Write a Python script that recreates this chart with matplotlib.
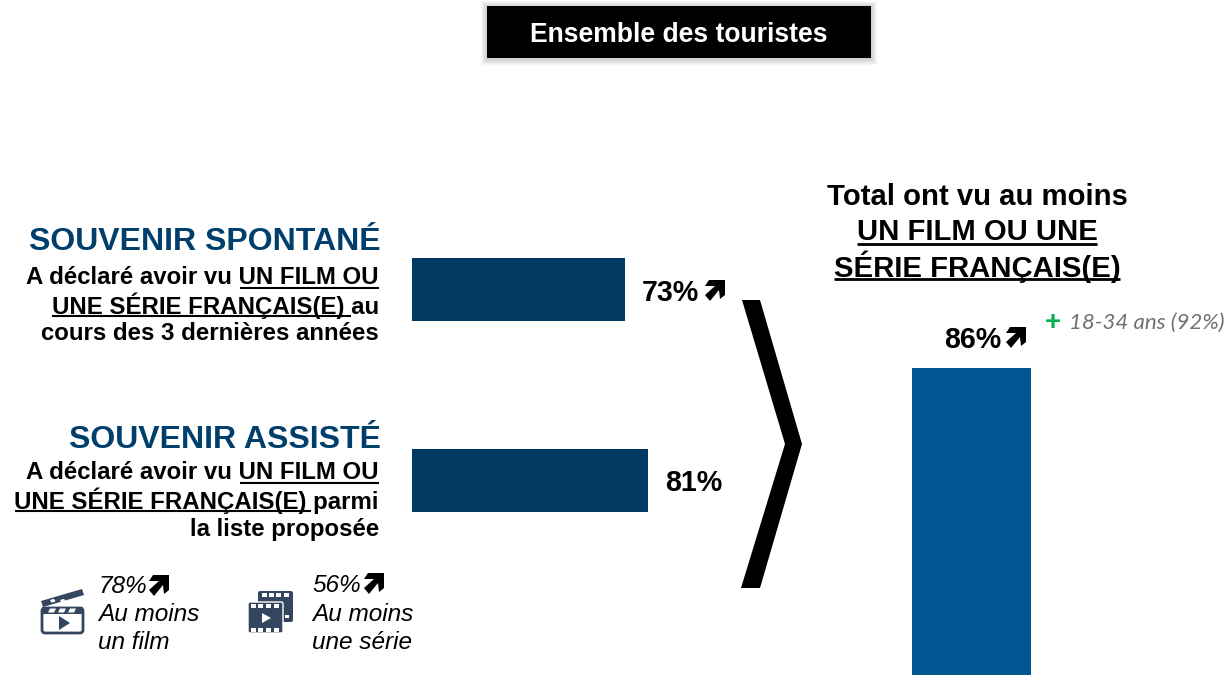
import matplotlib
matplotlib.use("Agg")
import matplotlib.pyplot as plt
from matplotlib.patches import Polygon, Rectangle, FancyBboxPatch

W, H = 1227, 675

rows = ["SOUVENIR SPONTANÉ", "SOUVENIR ASSISTÉ"]
row_values = [73, 81]
total_value = 86
film_value = 78
serie_value = 56
sub_label = "18-34 ans (92%)"

NAVY = "#003A63"
BLUE = "#015591"
HEAD = "#003E6B"
ICON = "#34465F"
ARIAL = "Liberation Sans"

BODY = 17.3
HEADING = 23
RIGHT = 21.1
VALUE = 20.6
SMALL = 17.6

fig = plt.figure(figsize=(W / 100, H / 100), dpi=100)

# pixel overlay for all the text and decorations
ov = fig.add_axes([0, 0, 1, 1], zorder=2)
ov.set_xlim(0, W)
ov.set_ylim(H, 0)
ov.axis("off")
ov.patch.set_alpha(0)


def axes_px(x0, y0, x1, y1):
    return fig.add_axes([x0 / W, 1 - y1 / H, (x1 - x0) / W, (y1 - y0) / H], zorder=1)


# horizontal bars
ax = axes_px(412, 194, 412 + 291.5, 576)
ax.barh([0, 1], row_values, height=0.33, color=NAVY)
ax.set_xlim(0, 100)
ax.set_ylim(1.5, -0.5)
ax.axis("off")

# tall bar, cut by the bottom of the picture
ax2 = axes_px(893, 368, 1050, 675)
ax2.bar([0], [total_value], width=0.76, color=BLUE)
ax2.set_xlim(-0.5, 0.5)
ax2.set_ylim(0, total_value)
ax2.axis("off")


def txt(x, y, s, size, weight="bold", color="black", ha="left", style="normal", family=ARIAL):
    ov.text(x, y - 1, s, fontsize=size, fontweight=weight, color=color, ha=ha, va="center_baseline",
            fontstyle=style, family=family)


def uline(x0, x1, y, lw=1.5):
    ov.plot([x0, x1], [y, y], color="black", lw=lw, solid_capstyle="butt")


def arrow(x, y):
    # thick north-east arrow, (x, y) is the top right corner
    pts = [(0, 0), (0, 15), (-5, 19), (-6, 10), (-15, 21), (-20, 15), (-10, 6), (-20, 6), (-16, 0)]
    ov.add_patch(Polygon([(x + a, y + b) for a, b in pts], color="black", lw=0))


# title box with soft shadow
for i in range(6, 0, -1):
    ov.add_patch(Rectangle((487 - i, 7 - i), 384 + 2 * i, 52 + 2 * i, color="black", alpha=0.03, lw=0))
ov.add_patch(Rectangle((487, 6), 384, 52, color="black", lw=0))
txt(679, 33, "Ensemble des touristes", 19.1, color="white", ha="center")

# left blocks
R = 379
txt(381, 240, rows[0], HEADING, color=HEAD, ha="right")
txt(R, 276, "A déclaré avoir vu UN FILM OU", BODY, ha="right")
uline(240, 379, 287.5)
txt(R, 304, "UNE SÉRIE FRANÇAIS(E) au", BODY, ha="right")
uline(52, 351, 315.5)
txt(R, 332, "cours des 3 dernières années", BODY, ha="right")

txt(381, 438, rows[1], HEADING, color=HEAD, ha="right")
txt(R, 471, "A déclaré avoir vu UN FILM OU", BODY, ha="right")
uline(240, 379, 482.5)
txt(R, 499, "UNE SÉRIE FRANÇAIS(E) parmi", BODY, ha="right")
uline(15, 311, 510.5)
txt(R, 528, "la liste proposée", BODY, ha="right")

# bar values
txt(642, 291, "%d%%" % row_values[0], VALUE)
arrow(725, 280)
txt(665, 481, "%d%%" % row_values[1], VALUE)

# chevron
ov.add_patch(Polygon([(742, 300), (760, 300), (802, 444), (760, 588), (741, 588), (785, 444)],
                     color="black", lw=0))

# right block
txt(977, 195, "Total ont vu au moins", RIGHT, ha="center")
txt(977, 230, "UN FILM OU UNE", RIGHT, ha="center")
uline(857, 1097, 244, 2)
txt(977, 265, "SÉRIE FRANÇAIS(E)", RIGHT, ha="center")
uline(834, 1120, 279, 2)

txt(944, 338, "%d%%" % total_value, VALUE)
arrow(1026, 327)
txt(1045, 321, "+", 20, color="#00B050")
txt(1069, 322, sub_label, 16, weight="normal", color="#707070", style="italic", family="Lato")

# small stats
txt(98, 585, "%d%%" % film_value, SMALL, weight="normal", style="italic")
arrow(169, 575)
txt(98, 613, "Au moins", SMALL, weight="normal", style="italic")
txt(98, 641, "un film", SMALL, weight="normal", style="italic")

txt(312, 584, "%d%%" % serie_value, SMALL, weight="normal", style="italic")
arrow(384, 573)
txt(312, 613, "Au moins", SMALL, weight="normal", style="italic")
txt(312, 641, "une série", SMALL, weight="normal", style="italic")

# clapperboard icon
ov.add_patch(FancyBboxPatch((42, 608), 41, 25, boxstyle="round,pad=0,rounding_size=3",
                            fc="white", ec=ICON, lw=2))
ov.add_patch(Rectangle((42, 607), 41, 7, color=ICON, lw=0))
for x in (50, 60, 70):
    ov.add_patch(Polygon([(x, 608.5), (x + 6, 608.5), (x + 4, 612.5), (x - 2, 612.5)], color="white", lw=0))
ov.add_patch(Polygon([(41, 601), (82, 589), (84, 595), (43, 607)], color=ICON, lw=0))
for x in (50, 60, 70):
    ov.add_patch(Polygon([(x, 600), (x + 4, 598.8), (x + 5.5, 601.5), (x + 1.5, 602.7)], color="white", lw=0))
ov.add_patch(Polygon([(59, 616), (70, 623), (59, 630)], color=ICON, lw=0))

# film strips icon
ov.add_patch(FancyBboxPatch((258, 591), 35, 31, boxstyle="round,pad=0,rounding_size=2", fc=ICON, ec="none"))
ov.add_patch(FancyBboxPatch((248, 602), 35, 31, boxstyle="round,pad=0,rounding_size=2", fc=ICON, ec="white", lw=1))
for x in (262, 269, 276, 284):
    ov.add_patch(Rectangle((x, 593), 5, 4, color="white", lw=0))
ov.add_patch(Rectangle((285, 615), 4, 3, color="white", lw=0))
for x in (251, 258, 266, 274):
    ov.add_patch(Rectangle((x, 604), 5, 4, color="white", lw=0))
    ov.add_patch(Rectangle((x, 628), 5, 4, color="white", lw=0))
ov.add_patch(Polygon([(262, 613), (271, 618), (262, 623)], color="white", lw=0))

fig.savefig("out.png", dpi=100, facecolor="white")
